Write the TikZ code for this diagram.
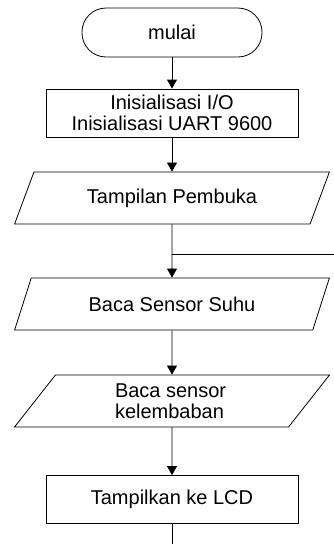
\documentclass[tikz,border=0pt]{standalone}
\usepackage{fontspec}
\setmainfont{Liberation Sans}
\usepackage{tikz}
\usetikzlibrary{positioning, arrows.meta, shapes.geometric}

\tikzset{
  base/.style={draw, line width=0.8pt, align=center, inner sep=2pt},
  terminal/.style={base, rectangle, rounded corners=24pt, minimum width=180pt, minimum height=49pt},
  proses/.style={base, rectangle, minimum width=252pt, minimum height=48pt},
  io/.style={base, trapezium, trapezium left angle=61.7, trapezium right angle=118.3,
    trapezium stretches=true, minimum width=315pt, minimum height=52pt},
  panah/.style={line width=0.8pt, -{Triangle[length=9pt,width=10pt]}},
}

\begin{document}
\begin{tikzpicture}[x=1pt, y=-1pt, font=\fontsize{20}{20.5}\selectfont]
  \useasboundingbox (0,0) rectangle (334,544);
  % blok flowchart
  \node[terminal] (mulai) at (172,32.5) {mulai};
  \node[proses] (init) at (172,113) {Inisialisasi I/O\\Inisialisasi UART 9600};
  \node[io] (pembuka) at (172,198) {Tampilan Pembuka};
  \node[io] (suhu) at (172,304) {Baca Sensor Suhu};
  \node[io, align=flush left, text width=114pt] (lembab) at (172,401) {Baca sensor\\kelembaban};
  \node[proses] (lcd) at (172,499.5) {Tampilkan ke LCD};
  \coordinate (balik) at (334,254);
  \coordinate (gabung) at (172,254);
  \coordinate (akhir) at (172,544);
  % panah
  \draw[panah] (mulai) -- (init);
  \draw[panah] (init) -- (pembuka);
  \draw[panah] (pembuka) -- (suhu);
  \draw[line width=0.8pt] (balik) -- (gabung);
  \draw[panah] (suhu) -- (lembab);
  \draw[panah] (lembab) -- (lcd);
  \draw[line width=0.8pt] (lcd) -- (akhir);
\end{tikzpicture}
\end{document}
